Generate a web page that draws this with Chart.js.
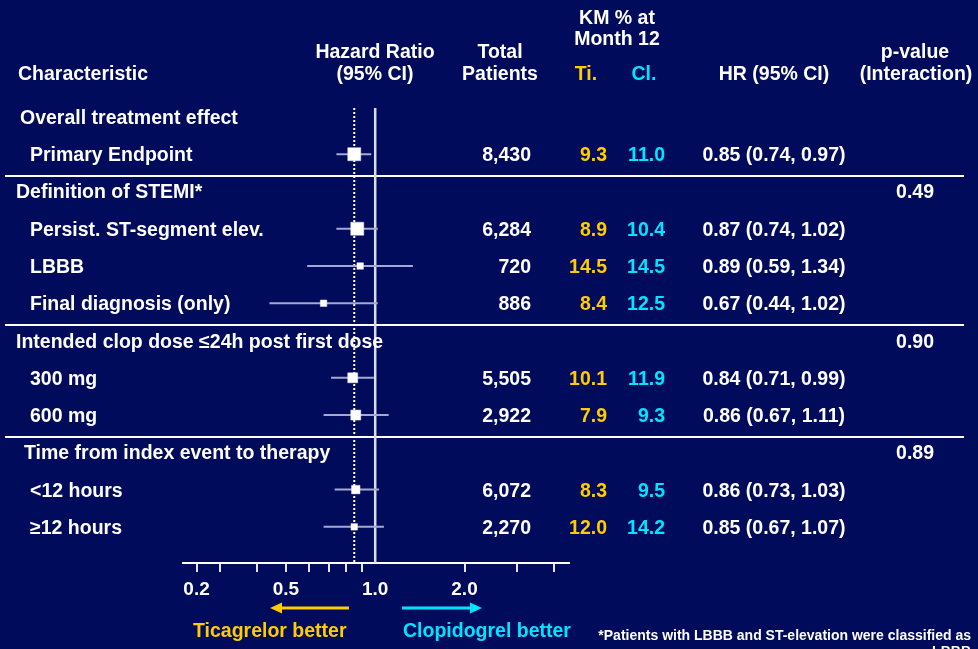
<!DOCTYPE html>
<html>
<head>
<meta charset="utf-8">
<script src="https://cdn.jsdelivr.net/npm/chart.js@4/dist/chart.umd.min.js"></script>
<style>
  html, body { margin: 0; padding: 0; background: #010b5c; }
  #wrap { width: 978px; height: 649px; position: relative; overflow: hidden; }
  canvas { display: block; }
</style>
</head>
<body>
<div id="wrap"><canvas id="c" width="978" height="649"></canvas></div>
<script>
// ---------------- DATA ----------------
const rowLabels = [
  "Overall treatment effect",
  "Primary Endpoint",
  "Definition of STEMI*",
  "Persist. ST-segment elev.",
  "LBBB",
  "Final diagnosis (only)",
  "Intended clop dose \u226424h post first dose",
  "300 mg",
  "600 mg",
  "Time from index event to therapy",
  "<12 hours",
  "\u226512 hours"
];
const rowIsGroup    = [true, false, true, false, false, false, true, false, false, true, false, false];
const hazardRatio   = [null, 0.85, null, 0.87, 0.89, 0.67, null, 0.84, 0.86, null, 0.86, 0.85];
const ciLower       = [null, 0.74, null, 0.74, 0.59, 0.44, null, 0.71, 0.67, null, 0.73, 0.67];
const ciUpper       = [null, 0.97, null, 1.02, 1.34, 1.02, null, 0.99, 1.11, null, 1.03, 1.07];
const totalPatients = [null, 8430, null, 6284, 720, 886, null, 5505, 2922, null, 6072, 2270];
const kmTicagrelor  = [null, 9.3, null, 8.9, 14.5, 8.4, null, 10.1, 7.9, null, 8.3, 12.0];
const kmClopidogrel = [null, 11.0, null, 10.4, 14.5, 12.5, null, 11.9, 9.3, null, 9.5, 14.2];
const pInteraction  = [null, null, 0.49, null, null, null, 0.90, null, null, 0.89, null, null];
const referenceHR = 1.0;
const overallRow = 1;
// x-axis ticks as drawn on the slide (its first tick, labelled "0.2", sits where 0.25 falls on the log scale)
const xTickValues = [0.25, 0.3, 0.4, 0.5, 0.6, 0.7, 0.8, 0.9, 1, 2, 3, 4];
const xTickLabels = ["0.2", "", "", "0.5", "", "", "", "", "1.0", "2.0", "", ""];

// ---------------- STYLE / LAYOUT ----------------
const FONT = '"Liberation Sans", Arial, Helvetica, sans-serif';
const C = { text: '#ffffff', ti: '#ffcc00', cl: '#00e5ff', ci: '#a4a9d2', ref: '#d9dbe8', tick: '#e6e6f0' };
const FS = 19.5;
const labelIndent = [20, 30, 16, 30, 30, 30, 16, 30, 30, 24, 30, 30];
// marker square side (px) per row, as drawn on the slide
const markerSidePx = [0, 13, 0, 13, 6.5, 6.5, 0, 10, 10, 0, 8.5, 6.5];

const rowIdx = rowLabels.map((_, i) => i);
const dataRows = rowIdx.filter(i => hazardRatio[i] != null);

const ciDatasets = dataRows.map(i => ({
  type: 'line',
  data: [{ x: ciLower[i], y: i }, { x: ciUpper[i], y: i }],
  borderColor: C.ci,
  borderWidth: 2,
  pointRadius: 0,
  pointHoverRadius: 0,
  order: 2
}));

const markerDataset = {
  type: 'scatter',
  data: dataRows.map(i => ({ x: hazardRatio[i], y: i })),
  pointStyle: 'rect',
  pointRadius: dataRows.map(i => markerSidePx[i] / Math.SQRT2),
  pointHoverRadius: dataRows.map(i => markerSidePx[i] / Math.SQRT2),
  backgroundColor: '#ffffff',
  borderColor: '#e8e8f4',
  borderWidth: 0.5,
  order: 0
};

function txt(ctx, s, x, y, align, color, size) {
  ctx.font = 'bold ' + (size || FS) + 'px ' + FONT;
  ctx.textAlign = align || 'left';
  ctx.textBaseline = 'alphabetic';
  ctx.fillStyle = color || C.text;
  ctx.fillText(s, x, y);
}

const forestPlugin = {
  id: 'forest',
  beforeDatasetsDraw(chart) {
    const { ctx, chartArea: a, scales: { x, y } } = chart;
    ctx.save();
    // separators before each group (except the first)
    ctx.strokeStyle = '#ffffff';
    ctx.lineWidth = 2;
    rowIdx.forEach(i => {
      if (i > 0 && rowIsGroup[i]) {
        const yy = Math.round((y.getPixelForValue(i - 1) + y.getPixelForValue(i)) / 2) + 3;
        ctx.beginPath(); ctx.moveTo(5, yy); ctx.lineTo(964, yy); ctx.stroke();
      }
    });
    // reference line at HR = 1
    const xr = x.getPixelForValue(referenceHR);
    ctx.strokeStyle = C.ref; ctx.lineWidth = 2.5;
    ctx.beginPath(); ctx.moveTo(xr, a.top); ctx.lineTo(xr, a.bottom); ctx.stroke();
    // dotted line at overall HR
    const xo = x.getPixelForValue(hazardRatio[overallRow]);
    ctx.strokeStyle = '#ffffff'; ctx.lineWidth = 2; ctx.setLineDash([2, 2]);
    ctx.beginPath(); ctx.moveTo(xo, a.top); ctx.lineTo(xo, a.bottom); ctx.stroke();
    ctx.restore();
  },
  afterDraw(chart) {
    const { ctx, scales: { y } } = chart;
    ctx.save();
    // headers
    txt(ctx, 'Characteristic', 18, 80);
    txt(ctx, 'Hazard Ratio', 375, 58, 'center');
    txt(ctx, '(95% CI)', 375, 80, 'center');
    txt(ctx, 'Total', 500, 58, 'center');
    txt(ctx, 'Patients', 500, 80, 'center');
    txt(ctx, 'KM % at', 617, 23.5, 'center');
    txt(ctx, 'Month 12', 617, 45, 'center');
    txt(ctx, 'Ti.', 586, 80, 'center', C.ti);
    txt(ctx, 'Cl.', 644, 80, 'center', C.cl);
    txt(ctx, 'HR (95% CI)', 774, 80, 'center');
    txt(ctx, 'p-value', 915, 58, 'center');
    txt(ctx, '(Interaction)', 916, 80, 'center');
    // rows
    rowIdx.forEach(i => {
      const by = y.getPixelForValue(i) + 7;
      txt(ctx, rowLabels[i], labelIndent[i], by);
      if (hazardRatio[i] != null) {
        txt(ctx, totalPatients[i].toLocaleString('en-US'), 531, by, 'right');
        txt(ctx, kmTicagrelor[i].toFixed(1), 607, by, 'right', C.ti);
        txt(ctx, kmClopidogrel[i].toFixed(1), 665, by, 'right', C.cl);
        txt(ctx, hazardRatio[i].toFixed(2) + ' (' + ciLower[i].toFixed(2) + ', ' + ciUpper[i].toFixed(2) + ')', 774, by, 'center');
      }
      if (pInteraction[i] != null) {
        txt(ctx, pInteraction[i].toFixed(2), 934, by, 'right');
      }
    });
    // direction arrows
    const arrow = (x0, x1, yy, color) => {
      const dir = Math.sign(x1 - x0);
      ctx.strokeStyle = color; ctx.fillStyle = color; ctx.lineWidth = 3;
      ctx.beginPath(); ctx.moveTo(x0, yy); ctx.lineTo(x1 - dir * 10, yy); ctx.stroke();
      ctx.beginPath(); ctx.moveTo(x1, yy); ctx.lineTo(x1 - dir * 12, yy - 5.5); ctx.lineTo(x1 - dir * 12, yy + 5.5); ctx.closePath(); ctx.fill();
    };
    arrow(349, 270, 608, C.ti);
    arrow(402, 482, 608, C.cl);
    txt(ctx, 'Ticagrelor better', 193, 637, 'left', C.ti);
    txt(ctx, 'Clopidogrel better', 403, 637, 'left', C.cl);
    // footnote
    txt(ctx, '*Patients with LBBB and ST-elevation were classified as', 971, 640, 'right', C.text, 14);
    txt(ctx, 'LBBB', 971, 656, 'right', C.text, 14);
    ctx.restore();
  }
};

new Chart(document.getElementById('c'), {
  type: 'scatter',
  data: { datasets: [markerDataset, ...ciDatasets] },
  options: {
    responsive: false,
    animation: false,
    devicePixelRatio: 1,
    layout: { padding: { left: 183, right: 409, top: 108, bottom: 46 } },
    plugins: { legend: { display: false }, tooltip: { enabled: false } },
    events: [],
    scales: {
      x: {
        type: 'logarithmic',
        min: 0.225,
        max: 4.5,
        afterBuildTicks: s => { s.ticks = xTickValues.map(v => ({ value: v })); },
        afterFit: s => { s.height = 40; },
        ticks: {
          autoSkip: false,
          maxRotation: 0,
          padding: 6,
          color: '#ffffff',
          font: { family: FONT, size: 19, weight: 'bold' },
          callback: (v, idx) => xTickLabels[idx]
        },
        grid: {
          drawOnChartArea: false,
          drawTicks: true,
          tickLength: 9,
          lineWidth: 2,
          color: c => (c.tick && c.tick.value === referenceHR) ? 'rgba(0,0,0,0)' : C.tick
        },
        border: { display: true, color: '#ffffff', width: 2 }
      },
      y: {
        type: 'linear',
        reverse: true,
        min: -0.24,
        max: 11.97,
        display: false
      }
    }
  },
  plugins: [forestPlugin]
});
</script>
</body>
</html>
